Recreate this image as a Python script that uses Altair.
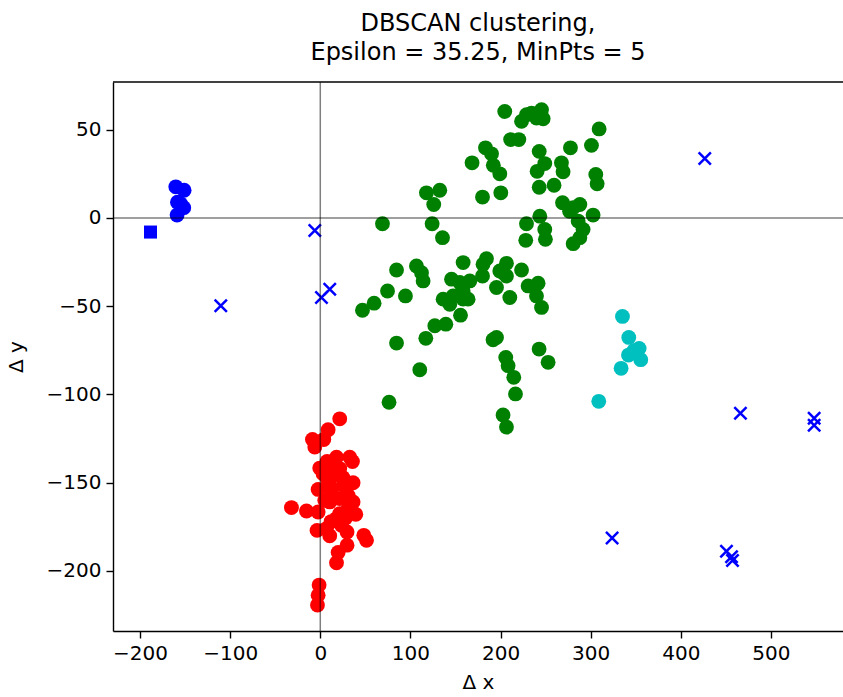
import altair as alt
import pandas as pd

# Cluster 1 (green)
green_x = [204.7, 223.3, 228.8, 234.4, 239.9, 245.5, 247.3, 309.4, 211.2, 220.3,
           183.3, 190.0, 242.9, 277.6, 300.9, 168.4, 192.0, 199.2, 249.1, 240.6,
           267.6, 269.4, 305.7, 307.2, 117.8, 132.6, 125.9, 180.0, 200.3, 242.9,
           259.4, 268.8, 280.6, 288.0, 302.7, 276.6, 243.6, 228.8, 249.1, 249.8,
           228.0, 286.1, 291.6, 288.0, 280.6, 69.0, 124.1, 135.6, 158.5, 84.6,
           106.7, 112.3, 114.1, 184.4, 180.6, 180.0, 206.6, 199.2, 206.6, 195.5,
           210.3, 223.3, 230.6, 241.7, 239.9, 245.5, 145.6, 154.8, 165.9, 158.5,
           164.0, 136.3, 143.7, 154.8, 74.6, 59.7, 46.8, 94.5, 155.6, 127.1,
           139.3, 117.1, 84.6, 191.7, 195.5, 205.8, 208.4, 214.7, 216.6, 242.8,
           252.8, 110.4, 76.3, 202.8, 206.6, 202.8, 147.4, 158.5]
green_y = [60.3, 54.7, 58.5, 59.4, 56.6, 61.3, 56.2, 50.4, 44.4, 44.4,
           39.7, 36.3, 37.7, 39.7, 41.1, 31.2, 29.8, 25.0, 30.8, 26.4,
           31.2, 26.1, 24.6, 19.3, 14.2, 15.7, 7.6, 11.8, 14.2, 17.4,
           18.5, 8.6, 5.8, 7.6, 1.6, 3.8, 1.0, -3.3, -6.5, -12.1,
           -12.7, -1.8, -6.5, -11.2, -14.6, -3.3, -3.3, -11.2, -25.3, -29.5,
           -27.2, -31.0, -35.7, -23.1, -26.3, -32.9, -25.7, -30.0, -32.9, -39.4,
           -45.1, -29.5, -38.5, -37.0, -44.2, -50.7, -34.7, -36.6, -35.7, -41.4,
           -46.0, -46.0, -48.9, -43.2, -41.4, -48.3, -52.3, -44.2, -55.1, -61.1,
           -60.2, -68.2, -70.9, -69.0, -67.7, -79.0, -83.7, -90.3, -99.7, -74.3,
           -81.8, -86.0, -104.4, -111.6, -118.5, -31.0, -44.2, -46.0]

# Cluster 2 (red)
red_x = [21.6, 8.7, -8.7, 3.9, -6.1, 18.0, 32.7, 35.7, 7.5, -0.6,
         21.6, 14.2, 36.4, 25.3, -2.4, 12.4, 21.6, 36.4, 10.5, -32.0,
         -15.3, -2.4, 39.4, 21.6, 18.0, -3.6, 6.9, 10.5, 29.7, 48.3,
         51.3, 29.7, 19.8, 18.0, -1.3, -2.4, -3.1, 3.1, 10.5, 30.9,
         30.9, 23.5, 8.0, 15.0, 25.0, 5.0, 28.0, 12.0]
red_y = [-113.8, -120.0, -125.5, -125.5, -129.8, -135.5, -135.5, -138.0, -138.0, -141.7,
         -142.0, -145.9, -150.0, -151.5, -153.8, -155.3, -159.0, -160.9, -160.9, -164.1,
         -166.0, -166.6, -167.9, -167.5, -170.3, -177.0, -176.0, -180.1, -177.9, -179.8,
         -182.6, -185.4, -189.5, -195.4, -208.0, -213.7, -219.3, -144.9, -151.5, -157.2,
         -164.7, -174.1, -148.0, -140.0, -147.0, -160.0, -170.0, -172.0]

# Cluster 3 (cyan)
cyan_x = [335.3, 342.3, 353.8, 342.0, 355.6, 333.8, 309.0, 347.9]
cyan_y = [-55.8, -67.7, -73.9, -77.7, -80.3, -85.2, -103.9, -75.2]

# Cluster 0 (blue)
blue_x = [-160.3, -151.1, -158.5, -151.5, -158.9, -155.0]
blue_y = [17.6, 15.7, 8.9, 5.8, 1.6, 8.0]

# Square marker
square_x = [-188.4]
square_y = [-8.0]

# Noise points
noise_x = [-6.1, -110.4, 1.3, 10.5, 426.6, 466.2, 548.0, 548.0, 323.8, 450.7, 456.3, 457.4]
noise_y = [-7.1, -49.8, -45.1, -40.4, 33.6, -110.6, -113.5, -117.5, -181.3, -188.8, -192.0, -194.0]

FONT = "DejaVu Sans"
W, H = 730, 549
X_DOMAIN = [-230, 580]
Y_DOMAIN = [-234, 77]

def frame(xs, ys):
    return pd.DataFrame({"x": xs, "y": ys})

x_enc = alt.X("x:Q", scale=alt.Scale(domain=X_DOMAIN, nice=False, zero=False),
              axis=alt.Axis(values=[-200, -100, 0, 100, 200, 300, 400, 500], title="Δ x"))
y_enc = alt.Y("y:Q", scale=alt.Scale(domain=Y_DOMAIN, nice=False, zero=False),
              axis=alt.Axis(values=[-200, -150, -100, -50, 0, 50], title="Δ y"))

CIRCLE = 220

def circles(xs, ys, color):
    return alt.Chart(frame(xs, ys)).mark_point(
        shape="circle", filled=True, size=CIRCLE, opacity=1, color=color,
        strokeWidth=0
    ).encode(x=x_enc, y=y_enc)

green = circles(green_x, green_y, "#008000")
red = circles(red_x, red_y, "#ff0000")
cyan = circles(cyan_x, cyan_y, "#00bfbf")
blue = circles(blue_x, blue_y, "#0000ff")

square = alt.Chart(frame(square_x, square_y)).mark_point(
    shape="square", filled=True, size=170, opacity=1, color="#0000ff", strokeWidth=0
).encode(x=x_enc, y=y_enc)

noise = alt.Chart(frame(noise_x, noise_y)).mark_point(
    shape="M-1,-1L1,1M-1,1L1,-1", filled=False, size=150, opacity=1,
    color="#0000ff", strokeWidth=2.5
).encode(x=x_enc, y=y_enc)

# Reference lines through the origin
hline = alt.Chart(pd.DataFrame({"y": [0]})).mark_rule(
    color="black", opacity=0.5, strokeWidth=1.5
).encode(y=alt.Y("y:Q", scale=alt.Scale(domain=Y_DOMAIN, nice=False, zero=False)))
vline = alt.Chart(pd.DataFrame({"x": [0]})).mark_rule(
    color="black", opacity=0.5, strokeWidth=1.5
).encode(x=alt.X("x:Q", scale=alt.Scale(domain=X_DOMAIN, nice=False, zero=False)))

# Top edge of the frame
top_edge = alt.Chart(pd.DataFrame({"a": [0]})).mark_rule(
    color="black", strokeWidth=1.4
).encode(x=alt.value(0), x2=alt.value(W + 5), y=alt.value(0))

chart = alt.layer(green, red, cyan, blue, square, noise, hline, vline, top_edge).properties(
    width=W,
    height=H,
    title=alt.Title(
        ["DBSCAN clustering,", "Epsilon = 35.25, MinPts = 5"],
        font=FONT, fontSize=24, fontWeight="normal", color="black",
        anchor="middle", offset=16, lineHeight=29,
    ),
    autosize=alt.AutoSizeParams(type="none"),
    padding={"left": 113, "top": 82, "right": 0, "bottom": 66},
).configure_view(
    stroke=None
).configure_axis(
    grid=False,
    domainColor="black",
    domainWidth=1.4,
    tickColor="black",
    tickSize=7,
    tickWidth=1.4,
    labelFont=FONT,
    labelFontSize=20,
    labelColor="black",
    labelPadding=5,
    titleFont=FONT,
    titleFontSize=20,
    titleFontWeight="normal",
    titleColor="black",
).configure_axisX(
    titlePadding=9,
).configure_axisY(
    titlePadding=20,
)

chart.save("out.html", embed_options={"renderer": "svg", "actions": False})
